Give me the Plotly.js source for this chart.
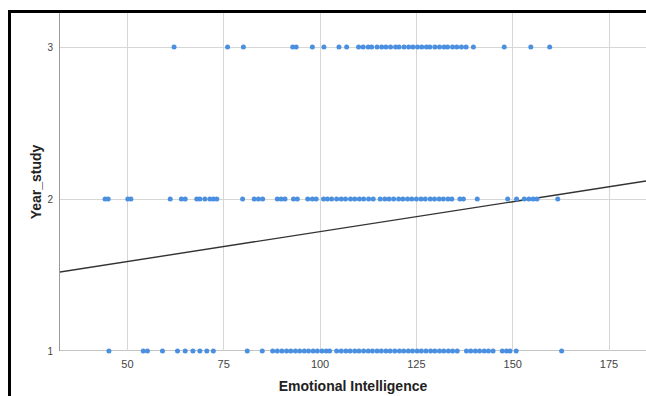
<!DOCTYPE html>
<html>
<head>
<meta charset="utf-8">
<script src="https://cdn.plot.ly/plotly-3.0.1.min.js"></script>
<style>
  html, body { margin: 0; padding: 0; background: #fff; }
  #wrap { position: relative; width: 646px; height: 396px; overflow: hidden; }
  #chart { position: absolute; left: 0; top: 0; width: 646px; height: 396px; }
  #frame { position: absolute; left: 8px; top: 10px; width: 700px; height: 400px;
           border-left: 3px solid #000; border-top: 3px solid #000; pointer-events: none; }
</style>
</head>
<body>
<div id="wrap">
  <div id="chart"></div>
  <div id="frame"></div>
</div>
<script>
// Emotional Intelligence scores by Year_study group
const year3EI = [62.1, 76.0, 80.1, 92.9, 93.8, 98.0, 101.0, 104.9, 106.9,
  110.0, 111.2, 112.5, 113.4, 114.8, 116.0, 117.1, 118.3, 119.6, 120.5, 121.8,
  123.0, 124.1, 125.3, 126.4, 127.6, 128.5, 129.8, 131.0, 132.2, 133.1, 134.4,
  135.5, 136.7, 137.9, 139.8, 147.8, 154.7, 159.6];

const year2EI = [44.2, 45.0, 50.1, 50.9, 61.1, 64.0, 65.0, 68.0, 68.8, 70.1,
  71.4, 72.3, 73.2, 79.9, 82.9, 84.0, 85.1, 88.9, 89.9, 90.9, 93.1, 94.1, 96.8,
  98.0, 99.0, 100.9, 101.9, 103.0, 104.3, 105.5, 106.6, 107.9, 109.0, 110.2,
  111.3, 112.6, 113.8, 115.6, 116.8, 117.9, 119.1, 120.4, 121.5, 122.7, 123.8,
  125.0, 126.2, 127.3, 128.6, 129.7, 130.9, 132.0, 133.2, 134.2, 136.3, 137.2,
  140.8, 148.7, 151.0, 153.0, 154.2, 155.3, 156.3, 161.7];

const year1EI = [45.2, 54.1, 55.2, 59.1, 63.0, 65.0, 67.0, 68.8, 70.6, 72.3,
  81.1, 85.0, 87.7, 88.9, 90.1, 91.3, 92.4, 93.6, 94.7, 95.9, 97.0, 98.2, 99.3,
  100.5, 101.6, 102.5, 104.3, 105.5, 106.7, 107.8, 109.0, 110.1, 111.3, 112.5,
  113.6, 114.8, 115.9, 117.1, 118.2, 119.4, 120.6, 121.7, 122.9, 124.0, 125.2,
  126.3, 127.5, 128.7, 129.8, 131.0, 132.1, 133.3, 134.4, 135.6, 138.0, 139.1,
  140.3, 141.4, 142.6, 143.7, 144.9, 147.3, 148.4, 149.3, 150.9, 162.7];

const groupLevels = [1, 2, 3];

// Linear fit line (total)
const fitIntercept = 1.392;
const fitSlope = 0.003936;

const xTicks = [50, 75, 100, 125, 150, 175];
const yTicks = [1, 2, 3];
const xRange = [32.5, 184.6];
const yRange = [1, 3.224];

const allX = [].concat(year1EI, year2EI, year3EI);
const allY = [].concat(year1EI.map(() => groupLevels[0]),
                       year2EI.map(() => groupLevels[1]),
                       year3EI.map(() => groupLevels[2]));

const fitX = xRange;
const fitY = fitX.map(x => fitIntercept + fitSlope * x);

const traces = [
  {
    x: fitX, y: fitY, type: 'scatter', mode: 'lines',
    line: { color: '#333333', width: 1.4 },
    hoverinfo: 'skip', showlegend: false, cliponaxis: true
  },
  {
    x: allX, y: allY, type: 'scatter', mode: 'markers',
    marker: { color: '#4a8fe0', size: 5, line: { width: 0 } },
    showlegend: false, cliponaxis: false
  }
];

const layout = {
  width: 646, height: 396,
  margin: { l: 60, r: 0, t: 13, b: 45, autoexpand: false },
  paper_bgcolor: '#ffffff', plot_bgcolor: '#ffffff',
  showlegend: false,
  font: { family: 'Liberation Sans, Arial, sans-serif', color: '#333333' },
  xaxis: {
    range: xRange, tickvals: xTicks, ticktext: xTicks.map(String),
    showgrid: true, gridcolor: '#d6d6d6', gridwidth: 1,
    zeroline: false, showline: false,
    ticks: '', ticklabelstandoff: 5,
    tickfont: { size: 11, color: '#444444' },
    title: { text: 'Emotional Intelligence', font: { size: 14, color: '#222222', weight: 'bold' }, standoff: 12 }
  },
  yaxis: {
    range: yRange, tickvals: yTicks, ticktext: yTicks.map(String),
    showgrid: true, gridcolor: '#d6d6d6', gridwidth: 1,
    zeroline: false, showline: true, linecolor: '#9a9a9a', linewidth: 1,
    ticks: '', ticklabelstandoff: 4,
    tickfont: { size: 10, color: '#444444' },
    title: { text: 'Year_study', font: { size: 14, color: '#222222', weight: 'bold' }, standoff: 2 }
  },
  shapes: [
    { type: 'line', xref: 'paper', yref: 'y', x0: 0, x1: 1, y0: 1, y1: 1,
      line: { color: '#8a8a8a', width: 1.2 }, layer: 'below' }
  ]
};

Plotly.newPlot('chart', traces, layout, { staticPlot: true, displayModeBar: false });
</script>
</body>
</html>
